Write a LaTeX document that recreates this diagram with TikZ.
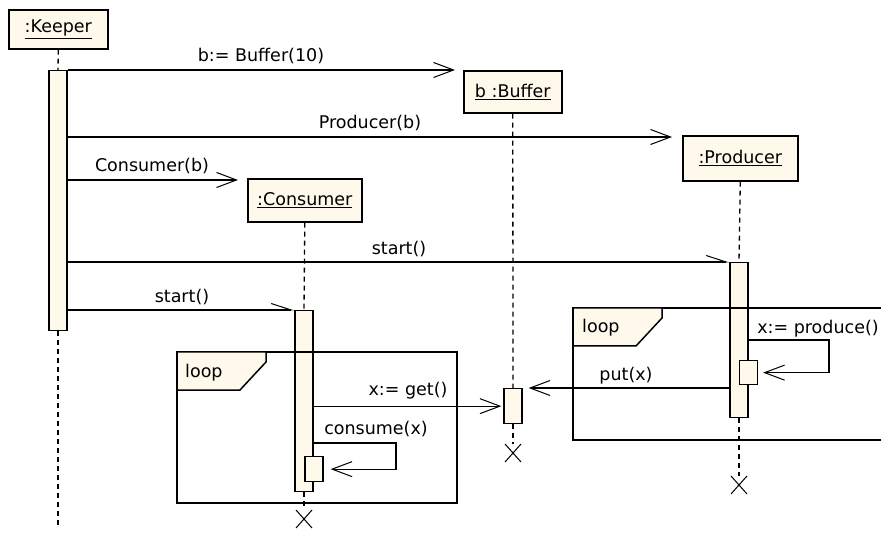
\documentclass[tikz,border=0pt]{standalone}
\usepackage{fontspec}
\setmainfont{DejaVu Sans}
\usetikzlibrary{arrows.meta,calc,backgrounds}
\definecolor{cream}{RGB}{255,249,235}
\begin{document}
\begin{tikzpicture}[x=1pt,y=-1pt,
  font=\fontsize{17.5}{20}\selectfont,
  obj/.style={draw,line width=1.6pt,fill=cream,inner sep=0pt,anchor=north west},
  actbar/.style={draw,line width=1.3pt,fill=cream,inner sep=0pt,minimum width=18pt,anchor=north},
  lifeline/.style={line width=1.3pt,dash pattern=on 5pt off 4pt},
  msg/.style={line width=1.2pt,-{Straight Barb[length=20pt,width=15pt,line width=1pt]},shorten >=7pt},
  async/.style={line width=1.2pt,-{Straight Barb[length=20pt,width=13pt,line width=1pt,harpoon]}},
  frame/.style={line width=1.5pt},
  tag/.style={line width=1.5pt,draw,fill=cream},
  lbl/.style={inner sep=0pt,text height=13.3pt,text depth=2.3pt},
  kill/.style={line width=1pt}]
\clip (0,0) rectangle (881,537);

% participants
\node[obj,minimum width=99pt,minimum height=39pt] (keeper) at (8,9) {\underline{:Keeper}};
\node[obj,minimum width=98pt,minimum height=42pt] (buffer) at (463,70) {\underline{b :Buffer}};
\node[obj,minimum width=115pt,minimum height=45pt] (producer) at (682,135) {\underline{:Producer}};
\node[obj,minimum width=114pt,minimum height=43pt] (consumer) at (247,178) {\underline{:Consumer}};

% activation bars
\node[actbar,minimum height=260pt] (kbar) at (58,70) {};
\node[actbar,minimum height=181pt] (cbar) at (304,310) {};
\node[actbar,minimum height=25pt] (cbar2) at (314,456) {};
\node[actbar,minimum height=35pt] (bbar) at (513,388) {};
\node[actbar,minimum height=155pt] (pbar) at (739,262) {};
\node[actbar,minimum height=24pt] (pbar2) at (748.5,360) {};

% destruction points
\coordinate (cx) at (304,519);
\coordinate (bx) at (513,453);
\coordinate (px) at (739,485);
\coordinate (kend) at (58,529);
\foreach \p in {cx,bx,px}{
  \draw[kill] ($(\p)+(-8,-9)$) -- ($(\p)+(8,9)$);
  \draw[kill] ($(\p)+(-8,9)$) -- ($(\p)+(8,-9)$);
}

% lifelines
\begin{scope}[on background layer]
  \draw[lifeline] (keeper.south) -- (kbar.north);
  \draw[lifeline] (kbar.south) -- (kend);
  \draw[lifeline] (consumer.south) -- (cbar.north);
  \draw[lifeline] (cbar.south) -- ($(cx)+(0,-9)$);
  \draw[lifeline] (buffer.south) -- (bbar.north);
  \draw[lifeline] (bbar.south) -- ($(bx)+(0,-9)$);
  \draw[lifeline] (producer.south) -- (pbar.north);
  \draw[lifeline] (pbar.south) -- ($(px)+(0,-9)$);
\end{scope}

% loop fragments
\draw[frame] (177,352) rectangle (457,503);
\draw[tag] (177,352) -- (266,352) -- (266,362) -- (240,390) -- (177,390) -- cycle;
\node[lbl,anchor=west] (loopa) at (185,372) {loop};
\draw[frame] (573,308) rectangle (900,440);
\draw[tag] (573,308) -- (662,308) -- (662,318) -- (636,346) -- (573,346) -- cycle;
\node[lbl,anchor=west] (loopb) at (582,327) {loop};

% message rows
\coordinate (y2) at (0,137);
\coordinate (y3) at (0,180);
\coordinate (c8) at (396,443);
\coordinate (p9) at (829,340);

% messages
\draw[msg,shorten >=8pt] (kbar.north east) -- (kbar.north east -| buffer.west);
\draw[msg,shorten >=10pt] (kbar.east |- y2) -- (producer.west |- y2);
\draw[msg,shorten >=9pt] (kbar.east |- y3) -- (consumer.west |- y3);
\draw[async] (kbar.east |- pbar.north) -- (pbar.north west);
\draw[async] (kbar.east |- cbar.north) -- (cbar.north west);
\draw[msg,shorten >=2pt] (cbar.east |- bbar.west) -- (bbar.west);
\draw[msg,shorten >=6pt] (pbar.west |- bbar.north) -- (bbar.north east);
\draw[msg] (cbar.east |- c8) -- (c8) |- (cbar2.east);
\draw[msg,shorten >=5pt] (pbar.east |- p9) -- (p9) |- (pbar2.east);

% message labels
\node[lbl] (l1) at (261,56) {b:= Buffer(10)};
\node[lbl] (l2) at (370,123) {Producer(b)};
\node[lbl] (l3) at (152,166) {Consumer(b)};
\node[lbl] (l4) at (399,249) {start()};
\node[lbl] (l5) at (182,297) {start()};
\node[lbl] (l6) at (408,390) {x:= get()};
\node[lbl] (l7) at (376,429) {consume(x)};
\node[lbl] (l8) at (626,375) {put(x)};
\node[lbl] (l9) at (818,328) {x:= produce()};
\end{tikzpicture}
\end{document}
